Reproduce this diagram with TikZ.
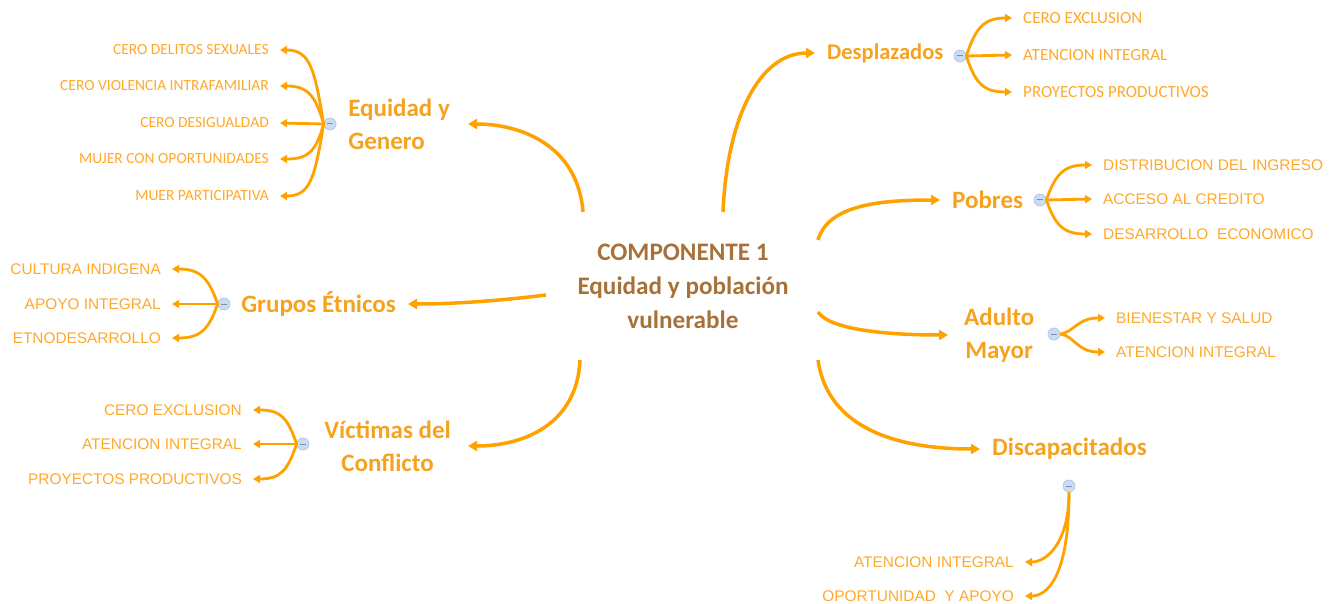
\documentclass[tikz,border=0pt]{standalone}
\usepackage{fontspec}
\setmainfont{Carlito}
\newfontfamily\arialfont{Liberation Sans}
\usetikzlibrary{arrows.meta}

\definecolor{linea}{HTML}{FFA200}
\definecolor{titulo}{HTML}{F7A21E}
\definecolor{hoja}{HTML}{FFA82A}
\definecolor{marron}{HTML}{A8713A}
\definecolor{botonfondo}{HTML}{C9DCF4}
\definecolor{botonborde}{HTML}{B0C6E2}
\definecolor{botonmenos}{HTML}{7F8FA8}

\tikzset{
  centro/.style={text=marron, font=\fontsize{25.2}{34}\selectfont\bfseries, align=center},
  tema/.style={text=titulo, font=\fontsize{25}{33}\selectfont\bfseries, inner xsep=12pt, inner ysep=0pt, align=center},
  hojaC/.style={text=hoja, font=\fontsize{15.5}{18}\selectfont, inner xsep=11pt, inner ysep=0pt},
  hojaD/.style={hojaC, font=\fontsize{17}{20}\selectfont},
  hojaA/.style={text=hoja, font=\arialfont\fontsize{15.4}{18}\selectfont, inner xsep=11pt, inner ysep=0pt},
  boton/.style={circle, draw=botonborde, fill=botonfondo, line width=0.7pt, minimum size=12pt, inner sep=0pt,
    path picture={\draw[botonmenos, line width=1pt] ([xshift=-3pt]path picture bounding box.center) -- ([xshift=3pt]path picture bounding box.center);}},
  rama/.style={draw=linea, line width=3.5pt, -{Triangle[length=9pt,width=10pt]}},
  hilo/.style={draw=linea, line width=2.8pt, -{Triangle[length=7pt,width=8pt]}},
}

\begin{document}
\begin{tikzpicture}[x=1pt,y=-1pt]
\useasboundingbox (0,0) rectangle (1336,604);

% central topic
\node[centro] (centro) at (683,286) {COMPONENTE 1\\Equidad y población\\vulnerable};

\coordinate (sEq) at (583,212);
\coordinate (sDe) at (723,212);
\coordinate (sPo) at (818,240);
\coordinate (sAd) at (818,312);
\coordinate (sDi) at (818,360);
\coordinate (sVi) at (580,360);
\coordinate (sGr) at (546,295);

% main topics
\node[tema, anchor=east, align=left, inner xsep=18pt] (eq) at (468,124) {Equidad y\\Genero};
\node[tema, anchor=east] (gr) at (408,304) {Grupos Étnicos};
\node[tema, anchor=east, inner xsep=17pt] (vi) at (468,446) {Víctimas del\\Conflicto};
\node[tema, anchor=west, font=\fontsize{22.5}{30}\selectfont\bfseries] (de) at (815,53) {Desplazados};
\node[tema, anchor=west] (po) at (940,200) {Pobres};
\node[tema, anchor=west, inner xsep=16pt] (ad) at (948,335) {Adulto\\Mayor};
\node[tema, anchor=west] (di) at (980,449) {Discapacitados};

\draw[rama] (sEq) .. controls +(-5,-65) and +(55,0) .. (eq.east);
\draw[rama] (sGr) .. controls +(-40,5) and +(50,0) .. (gr.east);
\draw[rama] (sVi) .. controls +(-3,65) and +(55,0) .. (vi.east);
\draw[rama] (sDe) .. controls +(4,-95) and +(-55,0) .. (de.west);
\draw[rama] (sPo) .. controls +(10,-35) and +(-60,0) .. (po.west);
\draw[rama] (sAd) .. controls +(12,18) and +(-60,0) .. (ad.west);
\draw[rama] (sDi) .. controls +(10,70) and +(-80,0) .. (di.west);

% collapse buttons
\node[boton] (bEq) at (330,124) {};
\node[boton] (bGr) at (224,304) {};
\node[boton] (bVi) at (303,444) {};
\node[boton] (bDe) at (960,56) {};
\node[boton] (bPo) at (1040,200) {};
\node[boton] (bAd) at (1054,334) {};
\node[boton] (bDi) at (1069,486) {};

% Equidad y Genero
\node[hojaC, anchor=east] (eq1) at (280,50) {CERO DELITOS SEXUALES};
\node[hojaC, anchor=east] (eq2) at (280,86) {CERO VIOLENCIA INTRAFAMILIAR};
\node[hojaC, anchor=east] (eq3) at (280,123) {CERO DESIGUALDAD};
\node[hojaC, anchor=east] (eq4) at (280,159) {MUJER CON OPORTUNIDADES};
\node[hojaC, anchor=east] (eq5) at (280,196) {MUER PARTICIPATIVA};
\draw[hilo] (bEq.west) .. controls +(-9,-55) and +(30,0) .. (eq1.east);
\draw[hilo] (bEq.west) .. controls +(-8,-28) and +(28,0) .. (eq2.east);
\draw[hilo] (bEq.west) -- (eq3.east);
\draw[hilo] (bEq.west) .. controls +(-8,28) and +(28,0) .. (eq4.east);
\draw[hilo] (bEq.west) .. controls +(-9,55) and +(30,0) .. (eq5.east);

% Grupos Etnicos
\node[hojaA, anchor=east] (gr1) at (172,269) {CULTURA INDIGENA};
\node[hojaA, anchor=east] (gr2) at (172,304) {APOYO INTEGRAL};
\node[hojaA, anchor=east] (gr3) at (172,338) {ETNODESARROLLO};
\draw[hilo] (bGr.west) .. controls +(-9,-26) and +(28,0) .. (gr1.east);
\draw[hilo] (bGr.west) -- (gr2.east);
\draw[hilo] (bGr.west) .. controls +(-9,26) and +(28,0) .. (gr3.east);

% Victimas del Conflicto
\node[hojaA, anchor=east] (vi1) at (253,410) {CERO EXCLUSION};
\node[hojaA, anchor=east] (vi2) at (253,444) {ATENCION INTEGRAL};
\node[hojaA, anchor=east] (vi3) at (253,479) {PROYECTOS PRODUCTIVOS};
\draw[hilo] (bVi.west) .. controls +(-9,-26) and +(28,0) .. (vi1.east);
\draw[hilo] (bVi.west) -- (vi2.east);
\draw[hilo] (bVi.west) .. controls +(-9,26) and +(28,0) .. (vi3.east);

% Desplazados
\node[hojaD, anchor=west] (de1) at (1012,18) {CERO EXCLUSION};
\node[hojaD, anchor=west] (de2) at (1012,55) {ATENCION INTEGRAL};
\node[hojaD, anchor=west] (de3) at (1012,92) {PROYECTOS PRODUCTIVOS};
\draw[hilo] (bDe.east) .. controls +(9,-28) and +(-28,0) .. (de1.west);
\draw[hilo] (bDe.east) -- (de2.west);
\draw[hilo] (bDe.east) .. controls +(9,28) and +(-28,0) .. (de3.west);

% Pobres
\node[hojaA, anchor=west] (po1) at (1092,165) {DISTRIBUCION DEL INGRESO};
\node[hojaA, anchor=west] (po2) at (1092,199) {ACCESO AL CREDITO};
\node[hojaA, anchor=west] (po3) at (1092,234) {DESARROLLO\ \ ECONOMICO};
\draw[hilo] (bPo.east) .. controls +(9,-26) and +(-28,0) .. (po1.west);
\draw[hilo] (bPo.east) -- (po2.west);
\draw[hilo] (bPo.east) .. controls +(9,26) and +(-28,0) .. (po3.west);

% Adulto Mayor
\node[hojaA, anchor=west] (ad1) at (1105,318) {BIENESTAR Y SALUD};
\node[hojaA, anchor=west] (ad2) at (1105,352) {ATENCION INTEGRAL};
\draw[hilo] (bAd.east) .. controls +(14,-2) and +(-28,0) .. (ad1.west);
\draw[hilo] (bAd.east) .. controls +(14,2) and +(-28,0) .. (ad2.west);

% Discapacitados
\node[hojaA, anchor=east] (di1) at (1025,562) {ATENCION INTEGRAL};
\node[hojaA, anchor=east] (di2) at (1025,596) {OPORTUNIDAD\ \ Y APOYO};
\draw[hilo] (bDi.south) .. controls +(0,50) and +(22,0) .. (di1.east);
\draw[hilo] (bDi.south) .. controls +(0,85) and +(22,0) .. (di2.east);

\end{tikzpicture}
\end{document}
